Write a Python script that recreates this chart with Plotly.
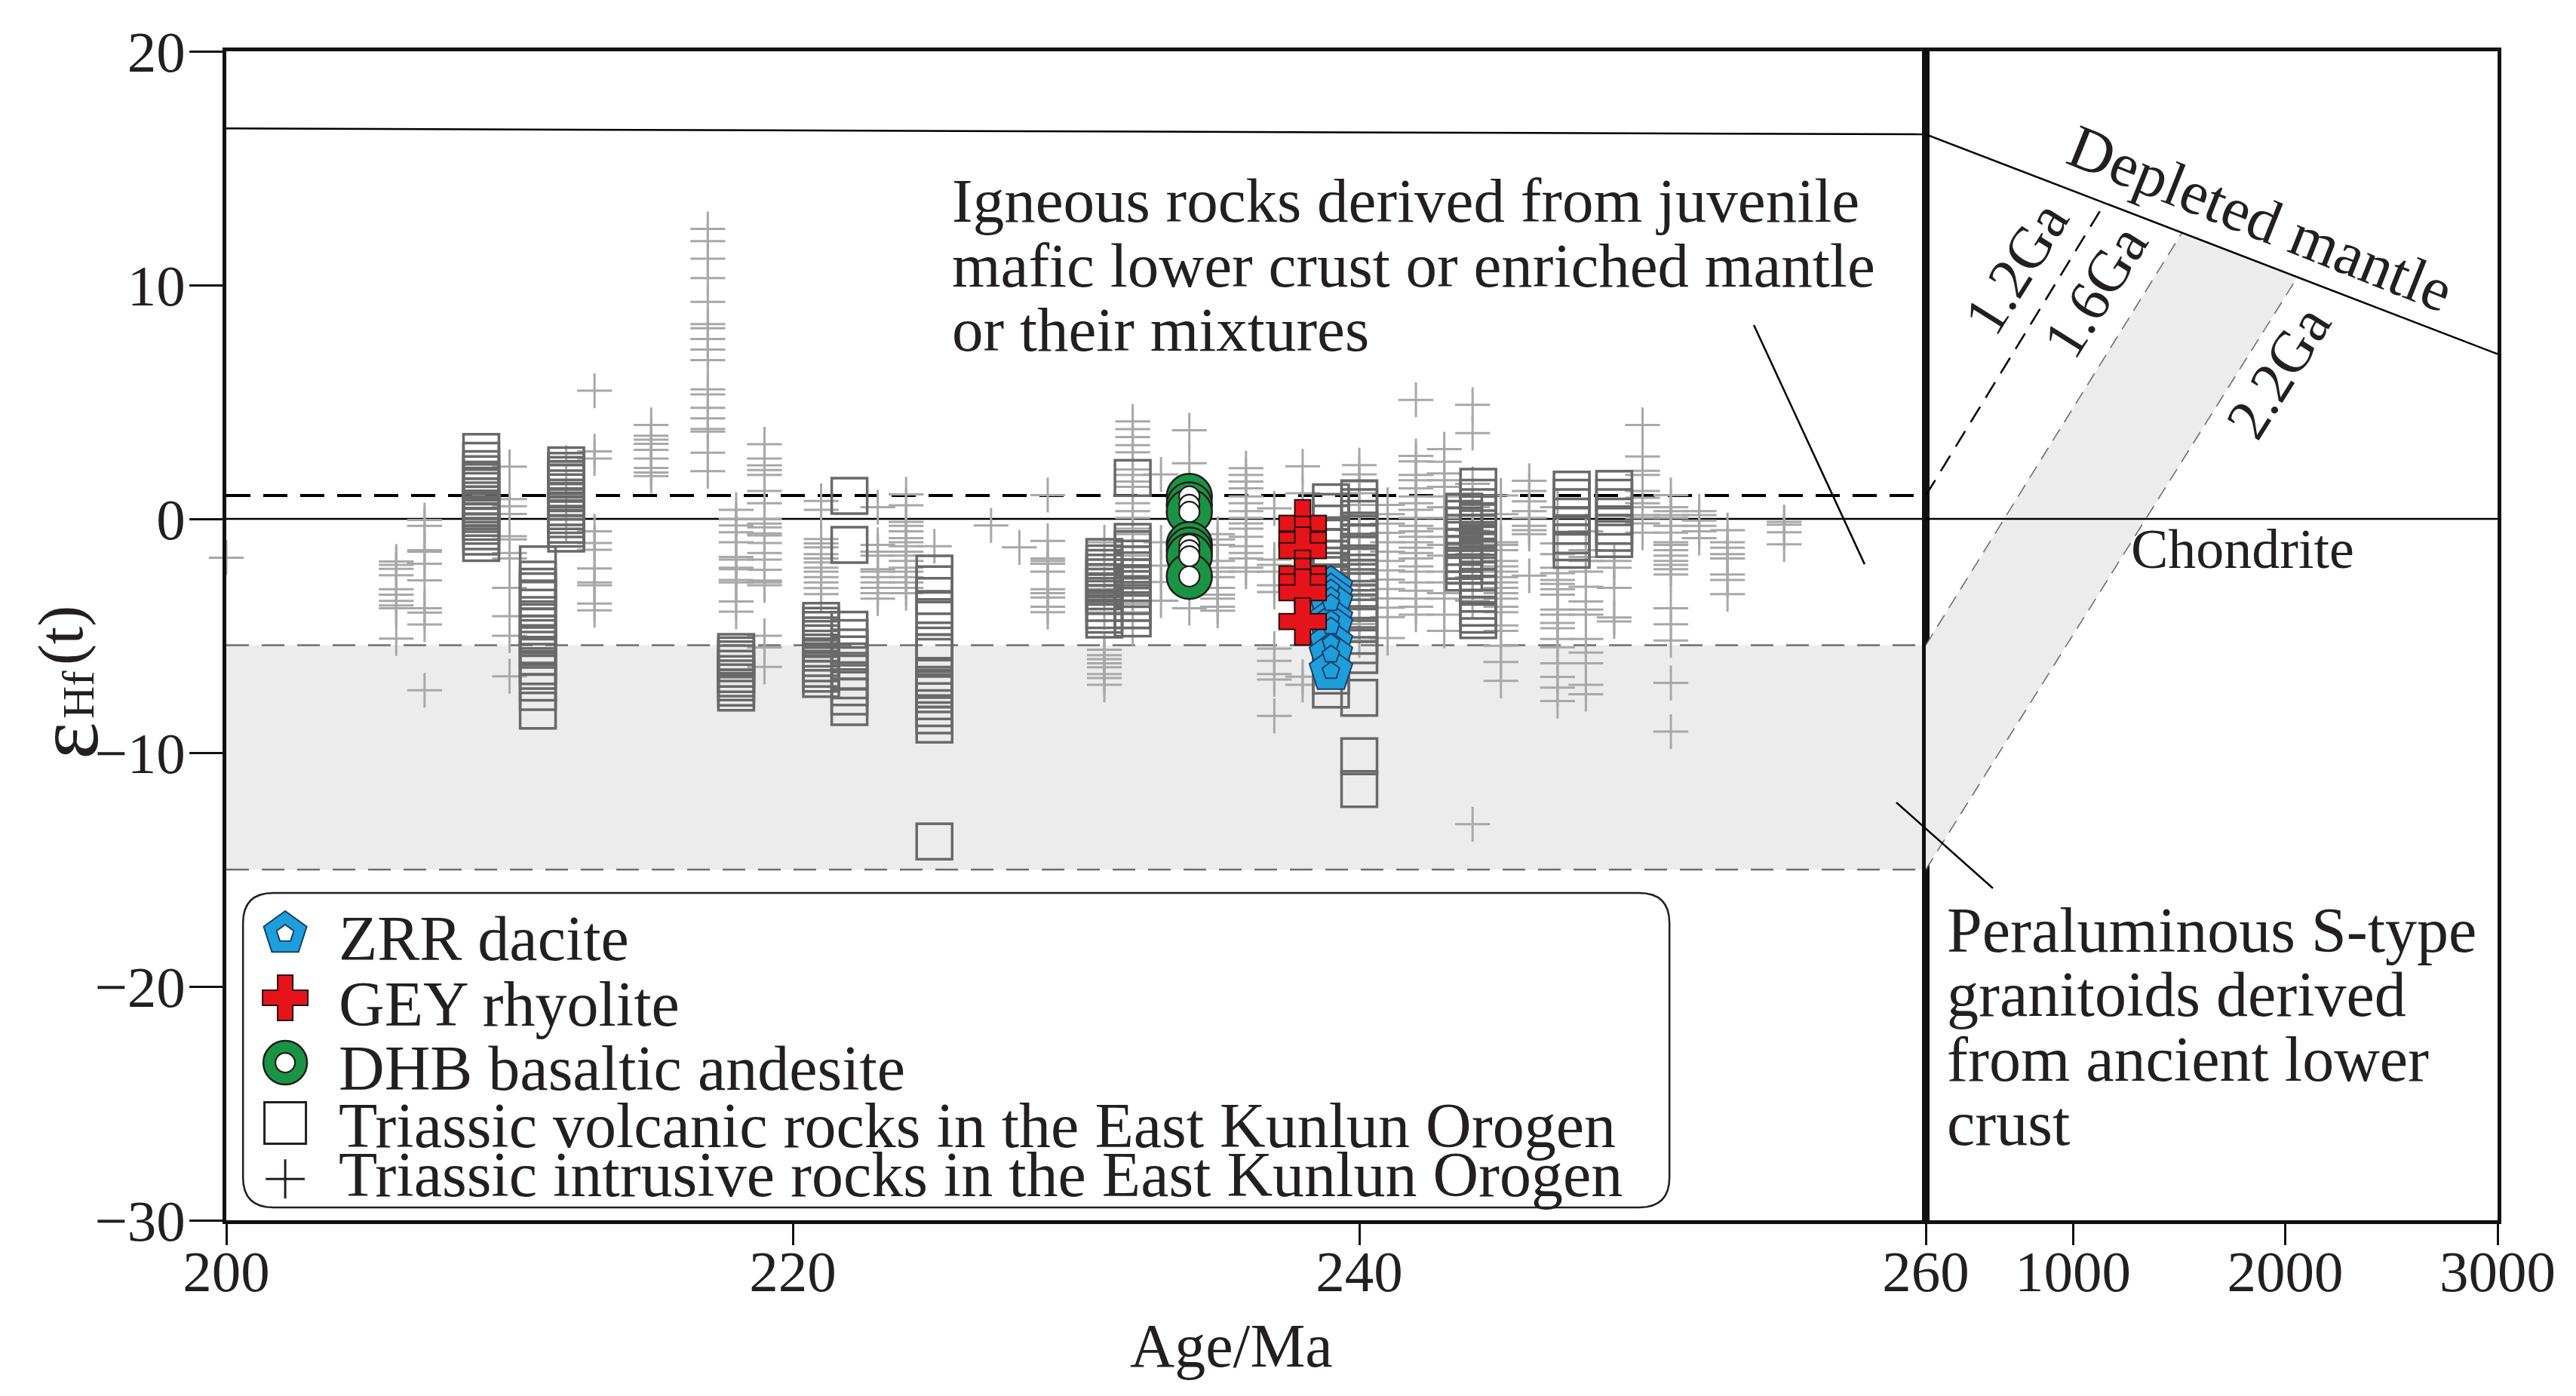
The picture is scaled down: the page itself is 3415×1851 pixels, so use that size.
import plotly.graph_objects as go

# ------------------------------------------------------------------
# DATA
# ------------------------------------------------------------------
# Triassic intrusive rocks in the East Kunlun Orogen (grey crosses): eHf(t) per age column
intr_200 = [-1.66]
intr_206 = [-1.82, -1.97, -2.14, -2.41, -3.01, -3.24, -3.51, -3.70, -3.82, -5.12]
intr_207 = [-0.05, -0.30, -1.34, -1.40, -1.92, -2.63, -3.82, -4.01, -4.52, -7.33]
intr_210 = [2.23, 0.85, 0.54, 0.21, -0.74, -0.88, -1.46, -1.69, -2.95, -4.16, -5.00, -6.73]
intr_212 = [2.4, 1.0, -0.25]
intr_213 = [5.48, 2.89, 2.58, -0.53, -1.03, -1.32, -2.12, -2.72, -2.84, -3.62, -3.91]
intr_215 = [4.02, 3.56, 3.39, 3.21, 2.95, 2.58, 2.18, 1.98, 1.83]
intr_217 = [12.40, 11.88, 11.13, 10.30, 9.28, 8.33, 8.15, 7.69, 7.24, 6.79, 5.54, 5.32,
            4.75, 4.30, 3.85, 3.73, 2.83, 2.04]
intr_218 = [0.39, -0.02, -0.28, -0.57, -1.0, -1.63, -1.74, -2.09, -2.15, -2.61, -2.72, -3.53, -3.97]
intr_219 = [3.19, 2.58, 2.29, 2.09, 1.88, 1.19, 0.67, -0.02, -0.2, -0.36, -0.62, -0.71, -1.03,
            -1.46, -1.74, -2.18, -2.64, -2.72, -2.84, -5.0, -5.5, -6.33]
intr_221 = [0.77, 0.39, -0.86, -1.05, -1.22, -1.51, -1.69, -1.86, -2.09, -2.26, -2.49, -2.72, -2.96, -3.22]
intr_223 = [0.50, -1.11, -1.40, -1.57, -2.15, -2.26, -2.49, -2.72, -2.95, -3.18, -3.41]
intr_224 = [1.05, 0.58, -0.13, -0.30, -0.53, -0.82, -1.0, -1.17, -1.40, -1.57, -1.80, -2.09,
            -2.26, -2.49, -2.72, -2.95, -3.18]
intr_225 = [-1.17]
intr_227 = [-0.28]
intr_228 = [-1.22]
intr_229 = [1.02, -0.94, -1.69, -1.80, -1.92, -2.26, -3.01, -3.18, -3.36, -3.76, -3.99]
intr_231 = [-1.0, -2.0, -3.0, -4.0, -5.6, -5.83, -6.0, -6.18, -6.35, -6.64, -6.81, -7.1]
intr_232 = [4.17, 3.84, 3.50, 3.15, 2.85, 2.11, 1.88, 1.60, 1.37, 0.67, 0.33, 0.04, -0.42, -0.65,
            -0.94, -1.17, -1.57, -2.03, -2.26, -2.72, -2.95, -3.30, -3.64, -3.99, -4.33, -4.68]
intr_233 = [1.9, -1.0, -2.0, -2.7, -3.5]
intr_234 = [3.79, 2.38, -3.82]
intr_235 = [-0.65, -0.88, -1.11, -1.8, -2.09, -2.26, -2.49, -2.95, -3.24, -3.41, -3.76, -3.93]
intr_236 = [2.17, 1.88, 1.60, 1.31, 0.96, 0.67, 0.33, 0.04, -0.19, -0.42, -0.77, -1.17, -1.46,
            -1.69, -2.09, -2.26]
intr_237 = [0.45, -1.74, -1.97, -2.26, -2.84, -3.13, -5.55, -6.07, -6.64, -6.87, -8.43]
intr_238 = [2.25, 1.1, -6.75, -7.1]
intr_240 = [2.3, 1.9, 1.6, 1.1, 0.6, 0.2, -0.3, -0.8, -1.3, -1.8, -2.3, -2.8, -3.3, -3.8, -4.5, -5.2]
intr_241 = [0.6, 0.2, -0.2, -0.6, -1.0, -1.4, -1.8, -2.2, -2.6, -3.0, -3.4, -3.8, -4.2, -5.1]
intr_242 = [5.09, 2.69, 2.46, 1.88, 1.65, 1.31, 0.96, 0.67, 0.39, 0.04, -0.3, -0.53, -0.77, -1.0,
            -1.23, -1.46, -1.69, -2.03, -2.26, -2.72, -3.07, -3.41, -3.76, -4.1]
intr_243 = [2.98, 2.44, 1.94, 1.65, 1.37, 0.96, 0.50, 0.04, -0.42, -0.77, -1.11, -1.57, -2.26,
            -2.72, -3.18, -3.41, -4.1, -4.79]
intr_244 = [4.88, 3.67, 1.5, 0.5, -0.5, -1.5, -2.5, -3.5, -13.06]
intr_245 = [1.0, 0.2, -1.0, -1.11, -1.34, -1.8, -2.03, -2.26, -2.49, -2.72, -2.95, -3.18, -3.41,
            -3.76, -3.99, -4.56, -4.79, -5.43, -6.12, -6.93]
intr_246 = [1.63, 1.19, 0.75, 0.33, 0.04, -0.3, -0.48, -0.65, -2.43]
intr_247 = [0.5, -1.05, -1.51, -2.09, -2.32, -2.61, -2.78, -3.01, -3.24, -3.88, -4.1, -4.45, -4.68,
            -5.14, -5.49, -6.18, -6.76, -7.22, -7.79]
intr_248 = [-0.53, -1.34, -1.63, -1.8, -2.26, -2.9, -3.53, -3.88, -4.1, -5.14, -5.72, -6.18, -7.1, -7.5]
intr_249 = [-1.8, -2.09, -2.95, -4.22, -4.39]
intr_250 = [4.02, 2.67, 2.06, 1.88, 1.19, 0.90, 0.67, 0.50, 0.16, 0.04, -0.19, -0.59]
intr_251 = [1.02, 0.5, 0.33, 0.16, 0.04, -0.3, -0.59, -1.0, -1.11, -1.34, -1.57, -1.8, -1.97,
            -2.15, -2.38, -3.82, -4.51, -5.2, -7.02, -9.1]
intr_252 = [0.33, 0.16, -0.07, -0.3, -0.53, -0.82]
intr_253 = [-0.48, -1.0, -1.23, -1.51, -1.69, -2.38, -2.61, -3.22]
intr_255 = [-0.13, -0.25, -0.57, -1.09]

intrusive_ages = [200, 206, 207, 210, 212, 213, 215, 217, 218, 219, 221, 223, 224, 225, 227, 228,
                  229, 231, 232, 233, 234, 235, 236, 237, 238, 240, 241, 242, 243, 244, 245, 246,
                  247, 248, 249, 250, 251, 252, 253, 255]
intrusive_cols = [intr_200, intr_206, intr_207, intr_210, intr_212, intr_213, intr_215, intr_217,
                  intr_218, intr_219, intr_221, intr_223, intr_224, intr_225, intr_227, intr_228,
                  intr_229, intr_231, intr_232, intr_233, intr_234, intr_235, intr_236, intr_237,
                  intr_238, intr_240, intr_241, intr_242, intr_243, intr_244, intr_245, intr_246,
                  intr_247, intr_248, intr_249, intr_250, intr_251, intr_252, intr_253, intr_255]

# Triassic volcanic rocks in the East Kunlun Orogen (dark grey squares)
volc_209 = [2.86, 2.48, 2.13, 1.91, 1.68, 1.57, 1.42, 1.19, 0.96, 0.79, 0.62, 0.44, 0.33, 0.21,
            0.04, -0.13, -0.30, -0.53, -0.76, -1.03]
volc_211 = [-1.94, -2.6, -2.9, -3.1, -3.4, -3.8, -4.3, -4.6, -4.9, -5.1, -5.4, -5.6, -5.9, -6.3,
            -6.5, -7.0, -7.4, -8.2]
volc_212 = [2.29, 2.06, 1.88, 1.71, 1.54, 1.31, 1.14, 0.91, 0.73, 0.50, 0.33, 0.16, -0.02, -0.25,
            -0.42, -0.63]
volc_218 = [-5.69, -5.84, -6.01, -6.18, -6.41, -6.64, -6.82, -6.99, -7.22, -7.43]
volc_221 = [-4.36, -4.57, -4.75, -4.98, -5.14, -5.32, -5.55, -5.72, -5.95, -6.18, -6.41, -6.62, -6.85]
volc_222 = [0.98, -1.11, -4.74, -5.1, -5.5, -5.8, -6.1, -6.5, -6.9, -7.2, -7.6, -8.05]
volc_225 = [-2.34, -2.8, -3.3, -3.9, -4.2, -5.2, -5.7, -5.9, -6.8, -7.1, -7.3, -7.5, -7.8, -8.1,
            -8.4, -8.8, -13.8]
volc_231 = [-1.63, -1.9, -2.1, -2.3, -2.5, -2.7, -2.9, -3.1, -3.3, -3.6, -3.9, -4.1, -4.31]
volc_232 = [1.75, -0.98, -1.3, -1.7, -1.95, -2.2, -2.5, -2.75, -3.0, -3.3, -3.6, -3.9, -4.26]
volc_239 = [0.71, 0.3, -0.2, -0.7, -1.2, -1.7, -2.0, -2.4, -2.8, -3.3, -3.8, -4.3, -4.9, -5.5,
            -6.1, -6.7, -7.3]
volc_240 = [0.88, 0.5, 0.0, -0.5, -1.0, -1.4, -1.9, -2.3, -2.7, -3.1, -3.6, -4.0, -4.5, -5.0,
            -5.4, -5.82, -7.65, -10.15, -11.56]
volc_2437 = [0.31, 0.0, -0.3, -0.6, -0.9, -1.2, -1.5, -1.8, -2.0, -2.3]
volc_2442 = [1.37, 0.9, 0.5, 0.2, -0.1, -0.4, -0.6, -0.9, -1.1, -1.4, -1.7, -2.0, -2.3, -2.6,
             -2.9, -3.2, -3.5, -3.8, -4.1, -4.33]
volc_2475 = [1.25, 0.9, 0.5, 0.1, -0.3, -0.7, -1.0, -1.32]
volc_249 = [1.28, 0.9, 0.5, 0.1, -0.3, -0.6, -0.86]

volcanic_ages = [209, 211, 212, 218, 221, 222, 225, 231, 232, 239, 240, 243.7, 244.2, 247.5, 249]
volcanic_cols = [volc_209, volc_211, volc_212, volc_218, volc_221, volc_222, volc_225, volc_231,
                 volc_232, volc_239, volc_240, volc_2437, volc_2442, volc_2475, volc_249]

# This study
zrr_age = 239.0
zrr_ehf = [-2.97, -3.3, -3.6, -4.3, -4.6, -5.3, -5.8, -6.5]
gey_age = 238.0
gey_ehf = [-0.19, -0.9, -1.36, -2.35, -2.7, -3.16, -4.39]
dhb_age = 234.0
dhb_ehf = [0.96, 0.6, 0.3, -1.1, -1.34, -1.6, -2.46]

# Reference evolution lines
dm_left_age = [200, 260]
dm_left_ehf = [16.7, 16.45]
dm_right_age = [307.3, 3000]
dm_right_ehf = [16.45, 7.05]
chur_ehf = 0.0
juvenile_upper = 1.0
crust_upper = -5.4
crust_lower = -15.0
ga12_age = [307.3, 1150]
ga12_ehf = [1.0, 13.5]
ga16_age = [307.3, 1511]
ga16_ehf = [-5.4, 12.2]
ga22_age = [307.3, 2055]
ga22_ehf = [-15.0, 10.3]

y_ticks = [-30, -20, -10, 0, 10, 20]
x_ticks_left = [200, 220, 240, 260]
x_ticks_right = [1000, 2000, 3000]

# ------------------------------------------------------------------
# STYLE
# ------------------------------------------------------------------
FONT = "Liberation Serif, Times New Roman, serif"
TXT = "#231f20"
CROSS_C = "rgb(168,168,168)"
SQ_C = "rgb(105,105,105)"
FILL_C = "rgb(236,236,236)"
DASH_GREY = "rgb(110,110,110)"

fig = go.Figure()


def flat(ages, cols):
    xs, ys = [], []
    for a, c in zip(ages, cols):
        for v in c:
            xs.append(a)
            ys.append(v)
    return xs, ys


# grey fields
fig.add_trace(go.Scatter(x=[200, 260, 260, 200], y=[crust_upper, crust_upper, crust_lower, crust_lower],
                         fill="toself", fillcolor=FILL_C, line=dict(width=0), mode="lines",
                         hoverinfo="skip", showlegend=False, xaxis="x", yaxis="y"))
fig.add_trace(go.Scatter(x=[ga16_age[0], ga16_age[1], ga22_age[1], ga22_age[0]],
                         y=[ga16_ehf[0], ga16_ehf[1], ga22_ehf[1], ga22_ehf[0]],
                         fill="toself", fillcolor=FILL_C, line=dict(width=0), mode="lines",
                         hoverinfo="skip", showlegend=False, xaxis="x2", yaxis="y2"))


def ln(x, y, color, width, dash, xa, ya):
    fig.add_trace(go.Scatter(x=x, y=y, mode="lines", line=dict(color=color, width=width, dash=dash),
                             hoverinfo="skip", showlegend=False, xaxis=xa, yaxis=ya))


# reference lines, left panel
ln(dm_left_age, dm_left_ehf, "black", 2.5, "solid", "x", "y")
ln([200, 260], [chur_ehf, chur_ehf], "black", 2.5, "solid", "x", "y")
ln([200, 260], [juvenile_upper, juvenile_upper], "black", 4, "32px,17px", "x", "y")
ln([200, 260], [crust_upper, crust_upper], DASH_GREY, 2.5, "30px,17px", "x", "y")
ln([200, 260], [crust_lower, crust_lower], DASH_GREY, 2.5, "30px,17px", "x", "y")
# right panel
ln(dm_right_age, dm_right_ehf, "black", 2.5, "solid", "x2", "y2")
ln([307.3, 3000], [chur_ehf, chur_ehf], "black", 2.5, "solid", "x2", "y2")
ln(ga12_age, ga12_ehf, "black", 2.5, "24px,14px", "x2", "y2")
ln(ga16_age, ga16_ehf, DASH_GREY, 1.6, "18px,11px", "x2", "y2")
ln(ga22_age, ga22_ehf, DASH_GREY, 1.6, "18px,11px", "x2", "y2")

# data: intrusive crosses
ix, iy = flat(intrusive_ages, intrusive_cols)
fig.add_trace(go.Scatter(x=ix, y=iy, mode="markers", cliponaxis=False,
                         marker=dict(symbol="cross-thin-open", size=33, color=CROSS_C,
                                     line=dict(color=CROSS_C, width=3)),
                         showlegend=False, xaxis="x", yaxis="y"))
# volcanic squares
vx, vy = flat(volcanic_ages, volcanic_cols)
fig.add_trace(go.Scatter(x=vx, y=vy, mode="markers",
                         marker=dict(symbol="square-open", size=47, color=SQ_C,
                                     line=dict(color=SQ_C, width=3.5)),
                         showlegend=False, xaxis="x", yaxis="y"))

# DHB basaltic andesite
fig.add_trace(go.Scatter(x=[dhb_age] * len(dhb_ehf), y=dhb_ehf, mode="markers",
                         marker=dict(symbol="circle", size=60, color="#1a9444",
                                     line=dict(color="#1d1d1d", width=2.5)),
                         showlegend=False, xaxis="x", yaxis="y"))
fig.add_trace(go.Scatter(x=[dhb_age] * len(dhb_ehf), y=dhb_ehf, mode="markers",
                         marker=dict(symbol="circle", size=27, color="white",
                                     line=dict(color="#1d1d1d", width=2.2)),
                         showlegend=False, xaxis="x", yaxis="y"))
# ZRR dacite
fig.add_trace(go.Scatter(x=[zrr_age] * len(zrr_ehf), y=zrr_ehf, mode="markers",
                         marker=dict(symbol="pentagon", size=60, color="#1e9fdb",
                                     line=dict(color="#1b3f6b", width=2)),
                         showlegend=False, xaxis="x", yaxis="y"))
fig.add_trace(go.Scatter(x=[zrr_age] * len(zrr_ehf), y=zrr_ehf, mode="markers",
                         marker=dict(symbol="pentagon", size=24, color="#1e9fdb",
                                     line=dict(color="#1b3f6b", width=2)),
                         showlegend=False, xaxis="x", yaxis="y"))
# GEY rhyolite
fig.add_trace(go.Scatter(x=[gey_age] * len(gey_ehf), y=gey_ehf, mode="markers",
                         marker=dict(symbol="cross", size=52, color="#e5141b",
                                     line=dict(color="#2a0a0a", width=2)),
                         showlegend=False, xaxis="x", yaxis="y"))

# ------------------------------------------------------------------
# custom legend (inside left panel, bottom)
# ------------------------------------------------------------------
leg_x = 202.08
leg_y = [-17.74, -20.48, -23.26, -25.84, -28.23]
leg_tx = 203.91
leg_ty = [-17.95, -20.75, -23.5, -25.95, -28.05]
leg_labels = ["ZRR dacite", "GEY rhyolite", "DHB basaltic andesite",
              "Triassic volcanic rocks in the East Kunlun Orogen",
              "Triassic intrusive rocks in the East Kunlun Orogen"]

fig.add_trace(go.Scatter(x=[leg_x], y=[leg_y[0]], mode="markers",
                         marker=dict(symbol="pentagon", size=60, color="#1e9fdb",
                                     line=dict(color="#1b3f6b", width=2)),
                         showlegend=False, xaxis="x", yaxis="y"))
fig.add_trace(go.Scatter(x=[leg_x], y=[leg_y[0]], mode="markers",
                         marker=dict(symbol="pentagon", size=24, color="white",
                                     line=dict(color="#1b3f6b", width=2)),
                         showlegend=False, xaxis="x", yaxis="y"))
fig.add_trace(go.Scatter(x=[leg_x], y=[leg_y[1]], mode="markers",
                         marker=dict(symbol="cross", size=50, color="#e5141b",
                                     line=dict(color="#2a0a0a", width=2)),
                         showlegend=False, xaxis="x", yaxis="y"))
fig.add_trace(go.Scatter(x=[leg_x], y=[leg_y[2]], mode="markers",
                         marker=dict(symbol="circle", size=58, color="#1a9444",
                                     line=dict(color="#1d1d1d", width=2.5)),
                         showlegend=False, xaxis="x", yaxis="y"))
fig.add_trace(go.Scatter(x=[leg_x], y=[leg_y[2]], mode="markers",
                         marker=dict(symbol="circle", size=26, color="white",
                                     line=dict(color="#1d1d1d", width=2.2)),
                         showlegend=False, xaxis="x", yaxis="y"))
fig.add_trace(go.Scatter(x=[leg_x], y=[leg_y[3]], mode="markers",
                         marker=dict(symbol="square-open", size=55, color="#231f20",
                                     line=dict(color="#231f20", width=3)),
                         showlegend=False, xaxis="x", yaxis="y"))
fig.add_trace(go.Scatter(x=[leg_x], y=[leg_y[4]], mode="markers",
                         marker=dict(symbol="cross-thin-open", size=37, color="#231f20",
                                     line=dict(color="#231f20", width=3)),
                         showlegend=False, xaxis="x", yaxis="y"))

annotations = []
for t, yy in zip(leg_labels, leg_ty):
    annotations.append(dict(x=leg_tx, y=yy, xref="x", yref="y", text=t, showarrow=False,
                            xanchor="left", yanchor="middle",
                            font=dict(family=FONT, size=84, color=TXT)))

# legend box with rounded corners
bx0, bx1, byt, byb, rx, ry = 200.59, 250.95, -16.0, -29.45, 1.07, 1.29
box_path = (f"M{bx0+rx},{byt} L{bx1-rx},{byt} Q{bx1},{byt} {bx1},{byt-ry} "
            f"L{bx1},{byb+ry} Q{bx1},{byb} {bx1-rx},{byb} L{bx0+rx},{byb} "
            f"Q{bx0},{byb} {bx0},{byb+ry} L{bx0},{byt-ry} Q{bx0},{byt} {bx0+rx},{byt} Z")

shapes = [
    dict(type="path", path=box_path, xref="x", yref="y", line=dict(color=TXT, width=2.5),
         fillcolor="rgba(0,0,0,0)", layer="above"),
    # leader line: juvenile field
    dict(type="line", xref="x", yref="y", x0=253.93, y0=8.29, x1=257.84, y1=-1.94,
         line=dict(color="black", width=2.5)),
    # leader line: S-type field (crosses both panels)
    dict(type="line", xref="paper", yref="y", x0=0.7353, y0=-12.13, x1=0.7778, y1=-15.8,
         line=dict(color="black", width=2.5)),
]

# text annotations
ign = ["Igneous rocks derived from juvenile", "mafic lower crust or enriched mantle",
       "or their mixtures"]
for t, yy in zip(ign, [13.6, 10.85, 8.1]):
    annotations.append(dict(x=225.57, y=yy, xref="x", yref="y", text=t, showarrow=False,
                            xanchor="left", yanchor="middle",
                            font=dict(family=FONT, size=83, color=TXT)))
per = ["Peraluminous S-type", "granitoids derived", "from ancient lower", "crust"]
for t, yy in zip(per, [-17.6, -20.35, -23.1, -25.85]):
    annotations.append(dict(x=400.0, y=yy, xref="x2", yref="y2", text=t, showarrow=False,
                            xanchor="left", yanchor="middle",
                            font=dict(family=FONT, size=84, color=TXT)))
annotations += [
    dict(x=1798, y=-1.3, xref="x2", yref="y2", text="Chondrite", showarrow=False,
         xanchor="center", yanchor="middle", font=dict(family=FONT, size=74, color=TXT)),
    dict(x=1883, y=12.86, xref="x2", yref="y2", text="Depleted mantle", showarrow=False,
         xanchor="center", yanchor="middle", textangle=21.7,
         font=dict(family=FONT, size=82, color=TXT)),
    dict(x=732, y=10.72, xref="x2", yref="y2", text="1.2Ga", showarrow=False,
         xanchor="center", yanchor="middle", textangle=-58,
         font=dict(family=FONT, size=78, color=TXT)),
    dict(x=1103, y=9.74, xref="x2", yref="y2", text="1.6Ga", showarrow=False,
         xanchor="center", yanchor="middle", textangle=-58,
         font=dict(family=FONT, size=78, color=TXT)),
    dict(x=1965, y=6.28, xref="x2", yref="y2", text="2.2Ga", showarrow=False,
         xanchor="center", yanchor="middle", textangle=-58,
         font=dict(family=FONT, size=78, color=TXT)),
    dict(x=0.4427, y=-0.1071, xref="paper", yref="paper", text="Age/Ma", showarrow=False,
         xanchor="center", yanchor="middle", font=dict(family=FONT, size=82, color=TXT)),
    # y-axis title  εHf(t), built from three rotated pieces
    dict(x=-0.0701, y=0.4103, xref="paper", yref="paper", text="ε", textangle=-90,
         showarrow=False, xanchor="center", yanchor="middle",
         font=dict(family=FONT, size=118, color=TXT)),
    dict(x=-0.0651, y=0.4497, xref="paper", yref="paper", text="Hf", textangle=-90,
         showarrow=False, xanchor="center", yanchor="middle",
         font=dict(family=FONT, size=60, color=TXT)),
    dict(x=-0.0727, y=0.5000, xref="paper", yref="paper", text="(t)", textangle=-90,
         showarrow=False, xanchor="center", yanchor="middle",
         font=dict(family=FONT, size=84, color=TXT)),
]

axis_common = dict(showgrid=False, zeroline=False, showline=True, linecolor="#111",
                   linewidth=4.5, mirror=True,
                   tickfont=dict(family=FONT, size=77, color=TXT))

# the page body adds an 8 px offset, so the figure is 8 px smaller and shifted
fig.update_layout(
    width=3407, height=1843,
    margin=dict(l=292, r=104, t=60, b=233),
    paper_bgcolor="white", plot_bgcolor="white",
    showlegend=False,
    xaxis=dict(domain=[0, 0.74826], range=[200, 260.0001], tickvals=x_ticks_left,
               ticks="outside", ticklen=28, tickwidth=2.5, tickcolor="#111",
               ticklabelstandoff=-31, anchor="y", **axis_common),
    yaxis=dict(domain=[0, 1], range=[-30, 20], tickvals=y_ticks, ticks="outside",
               ticklen=44, tickwidth=2.5, tickcolor="#111", ticklabelstandoff=-10,
               anchor="x", **axis_common),
    xaxis2=dict(domain=[0.74826, 1], range=[307.3, 3000.01], tickvals=x_ticks_right,
                ticks="outside", ticklen=28, tickwidth=2.5, tickcolor="#111",
                ticklabelstandoff=-31, anchor="y2", **axis_common),
    yaxis2=dict(domain=[0, 1], range=[-30, 20], anchor="x2", showticklabels=False,
                ticks="", showgrid=False, zeroline=False, showline=True, linecolor="#111",
                linewidth=4.5, mirror=True),
    shapes=shapes,
    annotations=annotations,
)

fig.write_html("out.html")
